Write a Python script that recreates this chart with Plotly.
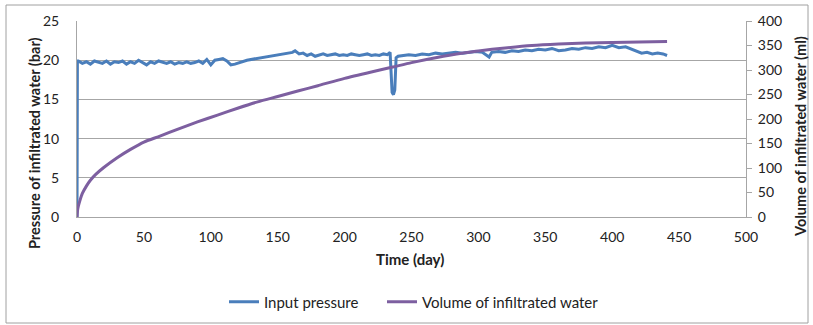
import plotly.graph_objects as go

# Input pressure readings (bar) against time (day)
pressure_days = [
    0, 0.3, 1, 4, 7, 10, 13, 16, 19, 22, 25, 28, 31, 34, 37, 40, 43, 46, 49, 52,
    55, 58, 61, 64, 67, 70, 73, 76, 79, 82, 85, 88, 91, 94, 97, 100, 103, 106,
    109, 112, 115, 118, 121, 124, 127,
    161, 163, 166, 169, 172, 175, 178, 181, 184, 187, 190, 193, 196, 199, 202,
    205, 208, 211, 214, 217, 220, 223, 226, 229, 232, 234, 235.5, 236.5, 237.5,
    238.5, 240,
    243, 248, 253, 258, 263, 268, 273, 278, 283, 288, 293, 298, 303, 308, 310,
    315, 320, 325, 330, 335, 340, 345, 350, 355, 360, 365, 370, 375, 380, 385,
    390, 395, 400, 405, 410, 414, 418, 422, 426, 430, 434, 438, 441,
]
pressure_bar = [
    0.0, 19.9, 19.9, 19.6, 19.8, 19.5, 19.9, 19.7, 19.6, 19.9, 19.5, 19.8, 19.7,
    19.9, 19.5, 19.8, 19.6, 20.0, 19.7, 19.4, 19.8, 19.6, 19.9, 19.7, 19.6, 19.8,
    19.5, 19.7, 19.6, 19.8, 19.6, 19.7, 19.9, 19.6, 20.1, 19.4, 20.0, 20.1, 20.2,
    19.9, 19.4, 19.5, 19.7, 19.9, 20.0,
    21.0, 21.2, 20.8, 20.9, 20.6, 20.8, 20.5, 20.7, 20.8, 20.6, 20.7, 20.8, 20.6,
    20.7, 20.6, 20.8, 20.7, 20.6, 20.7, 20.8, 20.6, 20.7, 20.6, 20.8, 20.7, 21.0,
    15.9, 15.6, 16.2, 20.3, 20.5,
    20.6, 20.7, 20.6, 20.8, 20.7, 20.9, 20.8, 20.9, 21.0, 20.9, 21.0, 21.1, 21.0,
    20.4, 21.0, 21.1, 21.0, 21.2, 21.1, 21.3, 21.2, 21.4, 21.3, 21.5, 21.2, 21.3,
    21.5, 21.4, 21.6, 21.5, 21.7, 21.6, 21.9, 21.6, 21.7, 21.4, 21.1, 20.9, 21.0,
    20.8, 20.9, 20.8, 20.6,
]

# Cumulative volume of infiltrated water (ml) against time (day)
volume_days = [
    0, 0.5, 1, 2, 4, 7, 10, 14, 20, 30, 40, 50, 62, 75, 90, 105, 120, 135, 150,
    165, 180, 200, 220, 236, 250, 270, 290, 300, 320, 340, 360, 380, 400, 420, 441,
]
volume_ml = [
    0, 15, 22, 32, 48, 63, 75, 87, 101, 121, 138, 153, 165, 179, 194, 208, 222,
    235, 246, 257, 268, 283, 296, 306, 315, 326, 335, 339, 345, 350, 353, 355,
    356, 357, 358,
]

x_ticks = [0, 50, 100, 150, 200, 250, 300, 350, 400, 450, 500]

BLUE = "#4A7EBB"
PURPLE = "#7D5FA0"
GRID = "#A6A6A6"
FONT = "Lato"

# plot-area geometry in pixels
L, R, T, B = 77, 746, 21, 217
W, H = R - L, B - T


def px(x):
    return (x - L) / W


def py(y):
    return (B - y) / H


fig = go.Figure()
fig.add_trace(go.Scatter(
    x=pressure_days, y=pressure_bar, mode="lines", name="Input pressure",
    line=dict(color=BLUE, width=3), yaxis="y", legend="legend",
))
fig.add_trace(go.Scatter(
    x=volume_days, y=volume_ml, mode="lines", name="Volume of infiltrated water",
    line=dict(color=PURPLE, width=3, shape="spline", smoothing=0.6), yaxis="y2",
    legend="legend2",
))

legend_style = dict(orientation="h", xref="container", yref="container",
                    xanchor="left", y=1 - 302 / 325, yanchor="middle",
                    font=dict(size=15, family=FONT), itemwidth=30,
                    bgcolor="rgba(0,0,0,0)")

fig.update_layout(
    width=813, height=325,
    margin=dict(l=L, r=813 - R, t=T, b=325 - B, autoexpand=False),
    paper_bgcolor="white", plot_bgcolor="white",
    font=dict(family=FONT, size=14, color="#222222"),
    showlegend=True,
    legend=dict(x=224 / 813, **legend_style),
    legend2=dict(x=382 / 813, **legend_style),
    xaxis=dict(
        range=[0, 500], tickvals=x_ticks, showgrid=False, zeroline=False,
        showline=True, linecolor=GRID, linewidth=1, ticks="",
        tickfont=dict(size=14), ticklabelstandoff=7, fixedrange=True,
    ),
    yaxis=dict(
        range=[0, 25], dtick=5, showgrid=True, gridcolor=GRID, gridwidth=1,
        zeroline=False, showline=True, linecolor=GRID, ticks="",
        tickfont=dict(size=14), ticklabelstandoff=14,
    ),
    yaxis2=dict(
        range=[0, 400], dtick=50, overlaying="y", side="right", showgrid=False,
        zeroline=False, showline=True, linecolor=GRID, ticks="outside",
        ticklen=5, tickcolor=GRID, tickfont=dict(size=14), ticklabelstandoff=3,
    ),
)

# Axis titles
fig.add_annotation(text="<b>Time (day)</b>", xref="paper", yref="paper",
                   x=px(410), y=py(259), showarrow=False,
                   font=dict(size=15, family=FONT), xanchor="center", yanchor="middle")
fig.add_annotation(text="<b>Pressure of infiltrated water (bar)</b>", xref="paper",
                   yref="paper", x=px(34), y=py(143),
                   showarrow=False, textangle=-90, font=dict(size=14.5, family=FONT),
                   xanchor="center", yanchor="middle")
fig.add_annotation(text="<b>Volume of infiltrated water (ml)</b>", xref="paper",
                   yref="paper", x=px(800), y=py(137),
                   showarrow=False, textangle=-90, font=dict(size=14.5, family=FONT),
                   xanchor="center", yanchor="middle")

# Chart area border
fig.add_shape(type="rect", xref="paper", yref="paper",
              x0=px(6), x1=px(808), y0=py(323), y1=py(5),
              line=dict(color="#A0A0A0", width=1), fillcolor="rgba(0,0,0,0)",
              layer="below")

fig.write_html("out.html")
